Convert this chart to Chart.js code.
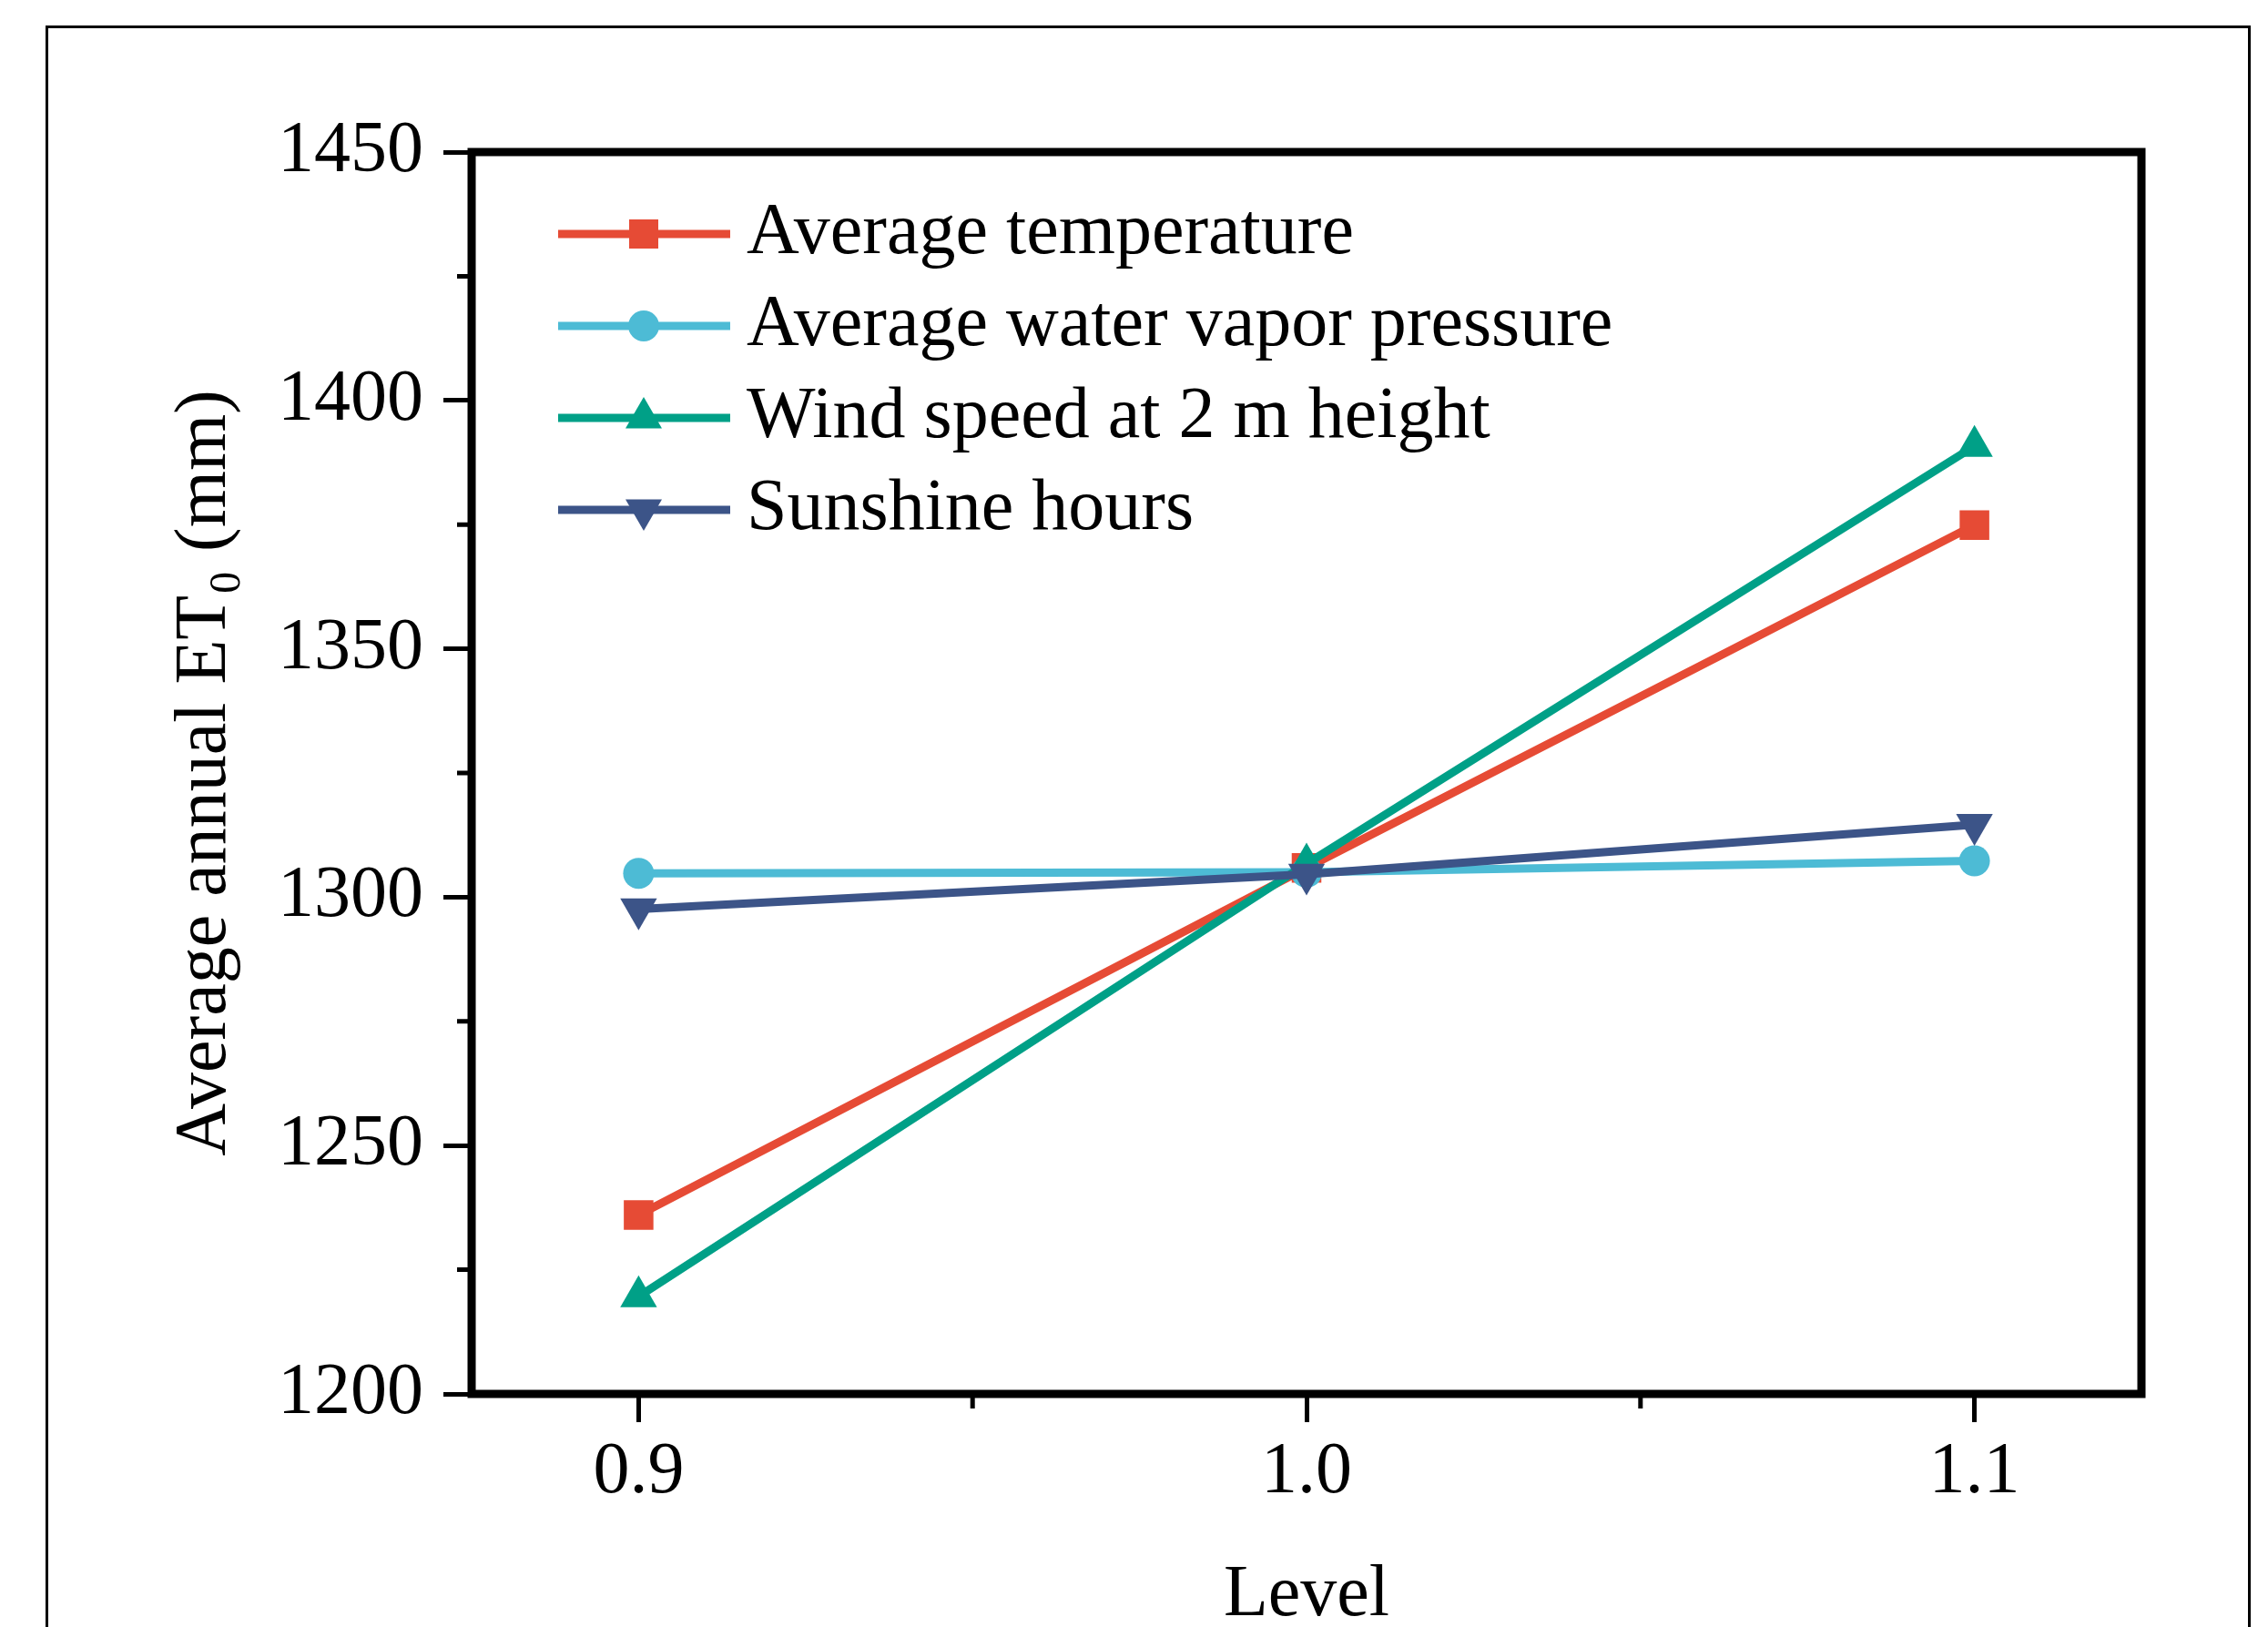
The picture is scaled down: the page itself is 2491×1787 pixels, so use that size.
<!DOCTYPE html>
<html>
<head>
<meta charset="utf-8">
<title>Average annual ET0 vs level</title>
<script src="https://cdn.jsdelivr.net/npm/chart.js"></script>
<style>
    html, body { margin: 0; padding: 0; background: #fff; overflow: hidden; }
    #wrap { position: relative; width: 2491px; height: 1787px; }
    #frame { position: absolute; left: 50px; top: 28px; width: 2416px; height: 1800px;
             border: 3px solid #000; pointer-events: none; }
</style>
</head>
<body>
<div id="wrap">
    <canvas id="chart" width="2491" height="1787"></canvas>
    <div id="frame"></div>
</div>

<script>
// data
var levels = [0.9, 1.0, 1.1];
var avgTemperature = [1236.0, 1305.9, 1374.9];
var avgVaporPressure = [1304.8, 1305.0, 1307.3];
var windSpeed2m = [1219.6, 1306.7, 1390.8];
var sunshineHours = [1297.6, 1304.6, 1314.6];

var seriesNames = ['Average temperature', 'Average water vapor pressure',
                   'Wind speed at 2 m height', 'Sunshine hours'];
var seriesColors = ['#E64B35', '#4DBBD5', '#00A087', '#3C5488'];

var xTicks = [0.9, 1.0, 1.1];
var xMinorTicks = [0.95, 1.05];
var yTicks = [1200, 1250, 1300, 1350, 1400, 1450];
var yMinorTicks = [1225, 1275, 1325, 1375, 1425];

var serif = "'Liberation Serif', 'Times New Roman', serif";
Chart.defaults.font.family = serif;
Chart.defaults.color = '#000';

function toPoints(values) {
    return levels.map(function(x, i) { return { x: x, y: values[i] }; });
}

// little line+marker picture for each legend entry
function legendIcon(color, shape) {
    var c = document.createElement('canvas');
    c.width = 190;
    c.height = 52;
    var g = c.getContext('2d');
    var cx = 95, cy = 26;
    g.strokeStyle = color;
    g.lineWidth = 9;
    g.beginPath();
    g.moveTo(0, cy);
    g.lineTo(190, cy);
    g.stroke();
    g.fillStyle = color;
    g.beginPath();
    if (shape === 'square') {
        g.rect(cx - 16, cy - 16, 32, 32);
    } else if (shape === 'circle') {
        g.arc(cx, cy, 17, 0, Math.PI * 2);
    } else if (shape === 'up') {
        g.moveTo(cx, cy - 23);
        g.lineTo(cx + 20, cy + 11.5);
        g.lineTo(cx - 20, cy + 11.5);
    } else {
        g.moveTo(cx, cy + 23);
        g.lineTo(cx + 20, cy - 11.5);
        g.lineTo(cx - 20, cy - 11.5);
    }
    g.closePath();
    g.fill();
    return c;
}
var legendIcons = [
    legendIcon(seriesColors[0], 'square'),
    legendIcon(seriesColors[1], 'circle'),
    legendIcon(seriesColors[2], 'up'),
    legendIcon(seriesColors[3], 'down')
];

// minor ticks + boxed axes
var axesFrame = {
    id: 'axesFrame',
    afterDraw: function(chart) {
        var ctx = chart.ctx;
        var a = chart.chartArea;
        var xs = chart.scales.x, ys = chart.scales.y;
        ctx.save();
        ctx.strokeStyle = '#000';
        ctx.lineWidth = 5;
        ctx.beginPath();
        yMinorTicks.forEach(function(v) {
            var p = ys.getPixelForValue(v);
            ctx.moveTo(a.left, p);
            ctx.lineTo(a.left - 16, p);
        });
        xMinorTicks.forEach(function(v) {
            var p = xs.getPixelForValue(v);
            ctx.moveTo(p, a.bottom);
            ctx.lineTo(p, a.bottom + 16);
        });
        ctx.stroke();
        ctx.lineWidth = 9;
        ctx.strokeRect(a.left, a.top, a.right - a.left, a.bottom - a.top);
        ctx.restore();
    }
};

// put the legend block where it sits in the figure
var legendSpot = {
    id: 'legendSpot',
    afterLayout: function(chart) {
        var lg = chart.legend, a = chart.chartArea;
        if (!lg) return;
        lg.left = a.left + 95;
        lg.top = a.top + 29;
        lg.right = lg.left + lg.width;
        lg.bottom = lg.top + lg.height;
    }
};

var shapes = ['rect', 'circle', 'triangle', 'triangle'];
var radii = [23, 17, 23.3, 23.3];
var rotations = [0, 0, 0, 180];
var allValues = [avgTemperature, avgVaporPressure, windSpeed2m, sunshineHours];

var datasets = allValues.map(function(vals, i) {
    return {
        label: seriesNames[i],
        data: toPoints(vals),
        borderColor: seriesColors[i],
        backgroundColor: seriesColors[i],
        borderWidth: 9,
        tension: 0,
        pointStyle: shapes[i],
        pointRadius: radii[i],
        pointRotation: rotations[i],
        pointBackgroundColor: seriesColors[i],
        pointBorderWidth: 0,
        order: 4 - i   // later series drawn on top, like the original
    };
});

new Chart(document.getElementById('chart'), {
    type: 'line',
    data: { datasets: datasets },
    plugins: [axesFrame, legendSpot],
    options: {
        responsive: false,
        devicePixelRatio: 1,
        animation: false,
        events: [],
        layout: { padding: { left: 0, top: 167, right: 139, bottom: 0 } },
        scales: {
            x: {
                type: 'linear',
                min: 0.875,
                max: 1.125,
                afterBuildTicks: function(s) {
                    s.ticks = xTicks.map(function(v) { return { value: v }; });
                },
                afterFit: function(s) { s.height = 256; },
                ticks: {
                    callback: function(v) { return Number(v).toFixed(1); },
                    font: { size: 80 },
                    padding: 8,
                    autoSkip: false,
                    maxRotation: 0
                },
                grid: { drawOnChartArea: false, drawTicks: true, tickLength: 31, tickWidth: 5, tickColor: '#000' },
                border: { display: false },
                title: {
                    display: true,
                    text: 'Level',
                    font: { size: 80, lineHeight: 0.85 },
                    padding: { top: 0, bottom: 0 }
                }
            },
            y: {
                type: 'linear',
                min: 1200,
                max: 1450,
                afterBuildTicks: function(s) {
                    s.ticks = yTicks.map(function(v) { return { value: v }; });
                },
                afterFit: function(s) { s.width = 518; },
                ticks: {
                    callback: function(v) { return String(v); },
                    font: { size: 80 },
                    padding: 22
                },
                grid: { drawOnChartArea: false, drawTicks: true, tickLength: 31, tickWidth: 5, tickColor: '#000' },
                border: { display: false },
                title: {
                    display: true,
                    text: 'Average annual ET\u2080 (mm)',
                    font: { size: 80, lineHeight: 0.85 },
                    padding: { top: 192, bottom: 0 }
                }
            }
        },
        plugins: {
            tooltip: { enabled: false },
            legend: {
                position: 'chartArea',
                align: 'start',
                labels: {
                    usePointStyle: true,
                    pointStyleWidth: 146,
                    padding: 21,
                    color: '#000',
                    font: { size: 80 },
                    generateLabels: function(chart) {
                        return chart.data.datasets.map(function(ds, i) {
                            return {
                                text: ds.label,
                                pointStyle: legendIcons[i],
                                fillStyle: ds.borderColor,
                                strokeStyle: ds.borderColor,
                                lineWidth: 0,
                                hidden: false,
                                datasetIndex: i
                            };
                        });
                    }
                }
            }
        }
    }
});
</script>
</body>
</html>
